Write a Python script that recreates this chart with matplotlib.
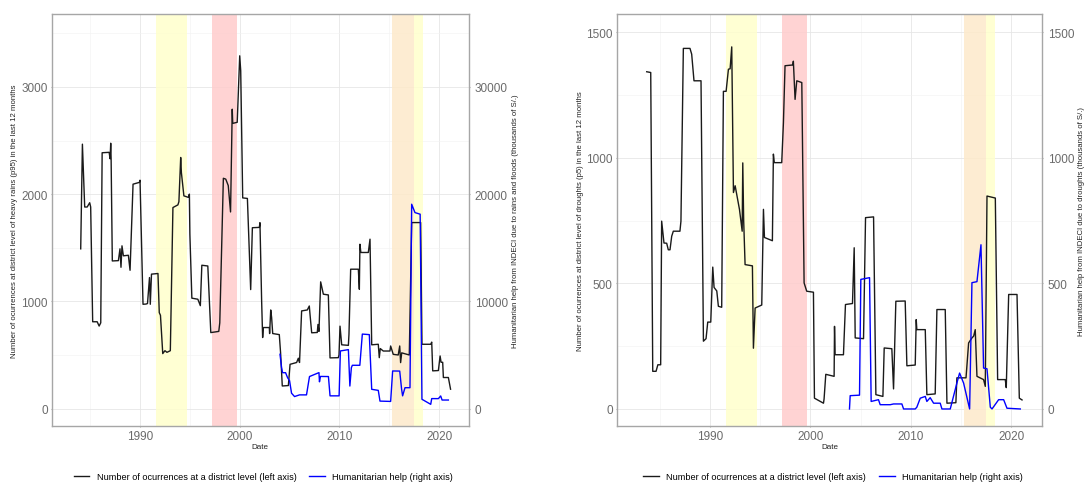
import matplotlib
matplotlib.use("Agg")
import matplotlib.pyplot as plt
from matplotlib.lines import Line2D

plt.rcParams["font.family"] = ["Liberation Sans", "DejaVu Sans"]

# ── Data (decimal years) ─────────────────────────────────────────────────────

# left panel: heavy rains (p95), left axis
rain_years = [
    1984.05, 1984.22, 1984.45, 1984.7, 1984.95, 1985.05, 1985.25, 1985.7, 1985.9, 1986.06,
    1986.2, 1986.9, 1987.0, 1987.06, 1987.1, 1987.22, 1987.83, 1987.99, 1988.09, 1988.19,
    1988.33, 1988.83, 1989.0, 1989.3, 1989.94, 1990.0, 1990.3, 1990.6, 1990.75, 1990.95,
    1991.03, 1991.15, 1991.8, 1991.93, 1992.05, 1992.28, 1992.5, 1992.7, 1993.04, 1993.3,
    1993.8, 1993.9, 1994.08, 1994.15, 1994.4, 1994.85, 1994.95, 1995.0, 1995.2, 1995.8,
    1996.05, 1996.2, 1996.8, 1997.1, 1997.9, 1998.0, 1998.36, 1998.6, 1998.85, 1999.08,
    1999.25, 1999.3, 1999.75, 2000.0, 2000.1, 2000.3, 2000.77, 2001.1, 2001.27, 2001.97,
    2002.03, 2002.2, 2002.3, 2002.37, 2002.97, 2003.0, 2003.11, 2003.2, 2003.31, 2003.97,
    2004.1, 2004.27, 2004.88, 2005.05, 2005.71, 2005.88, 2006.0, 2006.21, 2006.78, 2006.98,
    2007.05, 2007.22, 2007.78, 2007.85, 2007.95, 2008.12, 2008.39, 2008.89, 2009.06, 2009.89,
    2009.96, 2010.06, 2010.23, 2010.9, 2010.96, 2011.13, 2011.9, 2012.0, 2012.06, 2012.15,
    2012.9, 2013.07, 2013.24, 2013.9, 2014.0, 2014.1, 2014.4, 2015.07, 2015.14, 2015.4,
    2015.9, 2016.05, 2016.14, 2016.25, 2017.01, 2017.25, 2018.15, 2018.28, 2019.16, 2019.26,
    2019.36, 2019.93, 2020.1, 2020.2, 2020.36, 2020.43, 2020.93, 2021.15,
]
rain_counts = [
    1490, 2466, 1880, 1880, 1920, 1880, 810, 810, 770, 800,
    2386, 2390, 2330, 2475, 2330, 1377, 1380, 1490, 1318, 1518,
    1425, 1430, 1290, 2093, 2110, 2130, 973, 975, 980, 1222,
    973, 1254, 1260, 895, 870, 513, 540, 525, 540, 1875,
    1900, 1930, 2342, 2200, 1984, 1970, 2000, 1626, 1030, 1020,
    960, 1337, 1330, 709, 720, 800, 2148, 2140, 2080, 1834,
    2792, 2660, 2670, 3290, 3150, 1965, 1960, 1110, 1687, 1690,
    1734, 1000, 663, 756, 756, 700, 920, 850, 700, 690,
    520, 211, 215, 413, 430, 470, 430, 911, 920, 957,
    880, 707, 710, 785, 720, 1182, 1067, 1060, 473, 475,
    500, 769, 595, 590, 694, 1300, 1300, 1113, 1533, 1456,
    1456, 1580, 595, 600, 475, 560, 537, 537, 584, 506,
    500, 584, 429, 520, 500, 1735, 1735, 600, 600, 620,
    352, 355, 491, 432, 432, 290, 290, 181,
]

# left panel: humanitarian help for rains and floods (thousands of S/.), right axis
rain_help_years = [
    2004.04, 2004.2, 2004.3, 2004.6, 2004.8, 2005.0, 2005.2, 2005.5, 2006.0, 2006.7,
    2007.0, 2007.8, 2007.95, 2008.0, 2008.1, 2008.9, 2009.06, 2009.97, 2010.1, 2010.9,
    2011.05, 2011.2, 2011.3, 2012.05, 2012.3, 2013.0, 2013.24, 2013.9, 2014.07, 2015.14,
    2015.34, 2016.05, 2016.24, 2016.34, 2016.58, 2017.08, 2017.25, 2017.58, 2018.1, 2018.28,
    2019.16, 2019.26, 2019.93, 2020.16, 2020.3, 2020.93,
]
rain_help = [
    5067, 3820, 3350, 3350, 2887, 2600, 1435, 1124, 1280, 1280,
    2990, 3300, 3353, 2500, 3000, 2990, 1190, 1190, 5378, 5500,
    2105, 3820, 4040, 4040, 6950, 6900, 1800, 1700, 700, 670,
    3510, 3500, 1800, 1190, 1950, 1950, 19060, 18280, 18130, 870,
    400, 933, 930, 1180, 800, 800,
]

# right panel: droughts (p5), left axis
drought_years = [
    1983.69, 1984.09, 1984.29, 1984.62, 1984.8, 1985.08, 1985.18, 1985.41, 1985.68, 1985.84,
    1986.01, 1986.18, 1986.34, 1987.0, 1987.1, 1987.34, 1988.0, 1988.17, 1988.4, 1989.1,
    1989.34, 1989.6, 1989.77, 1990.07, 1990.27, 1990.4, 1990.67, 1990.83, 1991.16, 1991.33,
    1991.6, 1991.83, 1992.0, 1992.16, 1992.33, 1992.5, 1992.93, 1993.2, 1993.26, 1993.35,
    1993.49, 1994.22, 1994.32, 1994.49, 1995.15, 1995.32, 1995.42, 1996.21, 1996.31, 1996.4,
    1997.14, 1997.31, 1997.47, 1998.24, 1998.3, 1998.47, 1998.64, 1999.14, 1999.37, 1999.63,
    2000.3, 2000.4, 2001.3, 2001.36, 2001.53, 2002.36, 2002.4, 2002.46, 2003.29, 2003.49,
    2004.19, 2004.36, 2004.46, 2005.29, 2005.49, 2006.29, 2006.52, 2007.22, 2007.35, 2008.11,
    2008.28, 2008.51, 2009.44, 2009.61, 2010.44, 2010.54, 2010.6, 2011.44, 2011.6, 2012.43,
    2012.6, 2013.43, 2013.6, 2014.49, 2014.59, 2015.5, 2015.59, 2015.76, 2016.09, 2016.26,
    2016.42, 2016.59, 2017.25, 2017.42, 2017.59, 2018.42, 2018.65, 2019.41, 2019.51, 2019.75,
    2020.58, 2020.81, 2021.08,
]
drought_counts = [
    1343, 1340, 150, 150, 176, 176, 748, 661, 660, 634,
    634, 688, 708, 708, 748, 1436, 1436, 1413, 1307, 1307,
    270, 280, 346, 346, 565, 484, 470, 409, 405, 1265,
    1265, 1353, 1355, 1442, 862, 889, 795, 708, 980, 750,
    575, 570, 242, 402, 414, 795, 683, 670, 1015, 981,
    981, 1140, 1367, 1370, 1385, 1233, 1307, 1300, 502, 469,
    465, 43, 23, 40, 138, 130, 329, 216, 216, 416,
    420, 642, 283, 280, 762, 765, 57, 50, 243, 240,
    80, 429, 430, 172, 175, 356, 316, 316, 57, 60,
    396, 396, 23, 25, 124, 124, 172, 263, 283, 290,
    316, 130, 117, 90, 848, 840, 117, 117, 85, 456,
    456, 43, 36,
]

# right panel: humanitarian help for droughts (thousands of S/.), right axis
drought_help_years = [
    2003.89, 2003.96, 2004.89, 2005.02, 2005.89, 2006.05, 2006.78, 2006.95, 2007.95, 2008.28,
    2009.11, 2009.28, 2010.44, 2010.6, 2010.94, 2011.44, 2011.6, 2011.93, 2012.27, 2012.93,
    2013.1, 2013.93, 2014.59, 2014.86, 2015.26, 2015.86, 2016.09, 2016.59, 2016.99, 2017.25,
    2017.59, 2017.92, 2018.09, 2018.75, 2019.25, 2019.58, 2020.91,
]
drought_help = [
    0, 53, 55, 516, 523, 30, 37, 17, 17, 20,
    20, 0, 0, 7, 43, 50, 30, 45, 23, 23,
    0, 0, 103, 143, 103, 0, 503, 507, 654, 163,
    160, 7, 0, 37, 37, 3, 0,
]

# shaded El Niño periods (start, end, colour)
periods = [
    (1991.6, 1994.7, "#FFFFCC"),
    (1997.2, 1999.7, "#FFCCCC"),
    (2015.25, 2017.5, "#FDE9CA"),
    (2017.5, 2018.35, "#FFFFCC"),
]

LEGEND_LABELS = ["Number of ocurrences at a district level (left axis)",
                 "Humanitarian help (right axis)"]
TICK_COLOR = "#6b6b6b"
BORDER = "#A6A6A6"


def _panel(fig, rect, xlim, ylim, yticks, yminor, scale,
           years, counts, help_years, help_vals, ylab_left, ylab_right,
           left_lab_x, right_lab_x):
    ax = fig.add_axes(rect)
    for x0, x1, c in periods:
        ax.axvspan(x0, x1, color=c, lw=0, zorder=1, alpha=0.85)

    ax.plot(years, counts, color="#1a1a1a", lw=1.0, zorder=3)
    ax.set_xlim(*xlim)
    ax.set_ylim(*ylim)
    ax.set_xticks([1990, 2000, 2010, 2020])
    ax.set_xticks([1985, 1995, 2005, 2015], minor=True)
    ax.set_yticks(yticks)
    ax.set_yticks(yminor, minor=True)
    ax.grid(True, which="major", color="#E6E6E6", lw=0.6, zorder=0)
    ax.grid(True, which="minor", color="#F2F2F2", lw=0.4, zorder=0)
    ax.set_axisbelow(True)
    ax.tick_params(which="both", length=1, pad=1.8, colors=BORDER,
                   labelcolor=TICK_COLOR, labelsize=8.5)
    ax.tick_params(which="minor", length=0)
    for s in ax.spines.values():
        s.set_color(BORDER)
        s.set_linewidth(1.0)

    ax2 = ax.twinx()
    ax2.plot(help_years, help_vals, color="#0000FF", lw=1.0, zorder=4)
    ax2.set_ylim(ylim[0] * scale, ylim[1] * scale)
    ax2.set_yticks([t * scale for t in yticks])
    ax2.tick_params(length=1, pad=3, colors=BORDER, labelcolor=TICK_COLOR, labelsize=8.5)
    for s in ax2.spines.values():
        s.set_visible(False)

    ax.text(left_lab_x, 0.5, ylab_left, transform=ax.transAxes, rotation=90,
            ha="center", va="center", fontsize=5.55, color="#222222")
    ax.text(right_lab_x, 0.5, ylab_right, transform=ax.transAxes, rotation=90,
            ha="center", va="center", fontsize=5.55, color="#222222")
    ax.text(0.5, -0.0495, "Date", transform=ax.transAxes, ha="center", va="center",
            fontsize=5.8, color="#222222")
    return ax


fig = plt.figure(figsize=(10.87, 4.85), dpi=100)

_panel(fig, [51.7 / 1087, 1 - 427.3 / 485, 417.3 / 1087, 412.3 / 485],
       (1981.14, 2023.0), (-165, 3680), [0, 1000, 2000, 3000], [500, 1500, 2500, 3500], 10,
       rain_years, rain_counts, rain_help_years, rain_help,
       "Number of ocurrences at district level of heavy rains (p95) in the last 12 months",
       "Humanitarian help from INDECI due to rains and floods (thousands of S/.)",
       -0.088, 1.1126)

_panel(fig, [616.7 / 1087, 1 - 427.3 / 485, 425.6 / 1087, 412.3 / 485],
       (1980.7, 2023.1), (-69, 1573), [0, 500, 1000, 1500], [250, 750, 1250], 1,
       drought_years, drought_counts, drought_help_years, drought_help,
       "Number of ocurrences at district level of droughts (p5) in the last 12 months",
       "Humanitarian help from INDECI due to droughts (thousands of S/.)",
       -0.0862, 1.091)

handles = [Line2D([], [], color="#1a1a1a", lw=1.0), Line2D([], [], color="#0000FF", lw=1.0)]
for cx in (263.5 / 1087, 833 / 1087):
    fig.legend(handles, LEGEND_LABELS, loc="center", bbox_to_anchor=(cx, 1 - 478 / 485),
               ncol=2, frameon=False, fontsize=6.6, handlelength=1.7,
               handletextpad=0.8, columnspacing=1.4, borderpad=0, borderaxespad=0)

fig.savefig("out.png", dpi=100)
